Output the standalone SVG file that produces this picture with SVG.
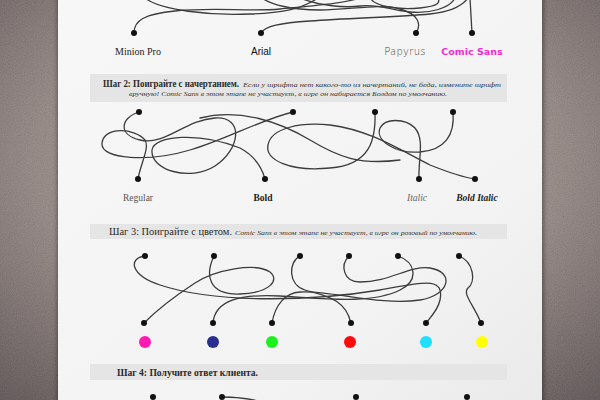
<svg xmlns="http://www.w3.org/2000/svg" width="600" height="400" viewBox="0 0 600 400">
<defs>
<radialGradient id="bg" cx="0.5" cy="0.4" r="0.8">
<stop offset="0" stop-color="#a5958e"/>
<stop offset="0.55" stop-color="#8a7c77"/>
<stop offset="1" stop-color="#4a3e3f"/>
</radialGradient>
<linearGradient id="paper" x1="0" y1="0" x2="1" y2="1">
<stop offset="0" stop-color="#f7f7f7"/>
<stop offset="0.7" stop-color="#f3f3f3"/>
<stop offset="1" stop-color="#eaeaea"/>
</linearGradient>
<filter id="noise" x="0" y="0" width="100%" height="100%">
<feTurbulence type="fractalNoise" baseFrequency="0.9" numOctaves="3" seed="7"/>
<feColorMatrix type="matrix" values="0.6 0.2 0.2 0 0  0.5 0.3 0.2 0 0  0.5 0.2 0.3 0 0  0 0 0 0 0.22"/>
</filter>
<filter id="shadow" x="-5%" y="-5%" width="110%" height="110%">
<feGaussianBlur stdDeviation="2"/>
</filter>
</defs>
<style>
.band{fill:#e5e5e5}
.dot{fill:#111}
.cur{fill:none;stroke:#3c3c3c;stroke-width:1.3;stroke-linecap:round}
.hd{font-family:"Liberation Serif","DejaVu Serif",serif;font-weight:bold;font-size:9.5px;fill:#2a2a2a}
.it{font-family:"Liberation Serif","DejaVu Serif",serif;font-style:italic;font-size:7px;fill:#333}
.lab{font-size:10px;text-anchor:middle}
</style>
<rect width="600" height="400" fill="url(#bg)"/>
<rect width="600" height="400" filter="url(#noise)"/>
<rect x="57" y="-5" width="487" height="410" fill="#000" opacity="0.35" filter="url(#shadow)"/>
<rect x="58" y="0" width="484" height="400" fill="url(#paper)"/>

<g id="connectors">
<path class="cur" d="M134,33 C134,20 145,14 175,11 C215,7 250,12 280,9 C320,5 345,3 360,-2"/>
<path class="cur" d="M261,33 C265,26 280,23 310,21 C350,18 400,17 430,14 C450,12 462,6 468,-2"/>
<path class="cur" d="M416,33 C422,24 418,14 400,9 C380,3 350,10 320,10 C290,10 270,4 262,-2"/>
<path class="cur" d="M472,33 L470,-2"/>
<path class="cur" d="M145,-2 C160,10 210,16 250,14 C280,13 300,10 318,-2"/>
<path class="cur" d="M370,-2 C375,6 395,10 420,8 C440,6 440,2 438,-2"/>
<path class="cur" d="M300,-2 C320,6 345,8 360,6 C380,4 390,10 410,12 C430,14 450,8 455,-2"/>

<path class="cur" d="M139,112 C120,118 118,135 140,140 C165,146 185,120 215,118 C245,116 240,150 215,166 C190,182 150,170 152,150 C154,135 200,132 240,148 C255,156 262,168 265,179"/>
<path class="cur" d="M293,112 C260,120 225,140 190,150 C150,162 100,160 102,143 C104,126 135,128 145,140 C150,148 140,165 138,179"/>
<path class="cur" d="M375,112 C376,140 370,165 330,168 C290,172 265,160 268,145 C271,128 300,122 330,125 C370,130 400,150 430,165 C450,173 462,177 475,179"/>
<path class="cur" d="M453,112 C455,135 445,150 420,152 C395,154 375,140 380,128 C385,118 405,118 415,128 C425,140 418,160 419,179"/>
<path class="cur" d="M200,118 C240,108 280,122 310,140 C340,158 360,165 400,160"/>

<path class="cur" d="M145,256 C128,258 130,275 160,285 C220,305 320,300 380,290 C420,283 445,275 440,300 C438,310 430,318 426,323"/>
<path class="cur" d="M214,256 C205,275 208,295 240,294 C270,293 280,280 270,272 C255,262 215,270 195,283 C175,296 155,312 144,323"/>
<path class="cur" d="M300,256 C288,262 288,285 305,290 C325,296 345,298 351,323"/>
<path class="cur" d="M349,256 C340,265 343,282 360,282 C390,282 410,265 430,268 C455,272 450,295 420,300 C380,306 330,290 300,292 C285,293 275,305 272,323"/>
<path class="cur" d="M398,256 C415,262 420,280 400,290 C370,305 320,298 280,296 C240,294 215,300 213,323"/>
<path class="cur" d="M459,256 C474,262 476,282 468,288 C462,294 474,305 481,323"/>

<path class="cur" d="M222,397 C235,397 250,399 258,401"/>
</g>

<g id="step1">
<g id="n-minion"><circle class="dot" cx="134" cy="33" r="3"/><text class="lab" x="138" y="55" style="font-family:'Liberation Serif',serif;fill:#222">Minion Pro</text></g>
<g id="n-arial"><circle class="dot" cx="261" cy="33" r="3"/><text class="lab" x="261" y="55" style="font-family:'Liberation Sans',sans-serif;fill:#111">Arial</text></g>
<g id="n-papyrus"><circle class="dot" cx="416" cy="33" r="3"/><text class="lab" x="405" y="55" style="font-family:'DejaVu Sans',sans-serif;font-weight:200;fill:#444;letter-spacing:0.3px">Papyrus</text></g>
<g id="n-comic"><circle class="dot" cx="472" cy="33" r="3"/><text class="lab" x="472" y="55" style="font-family:'DejaVu Sans',sans-serif;font-weight:bold;font-size:9.5px;fill:#f22ad6">Comic Sans</text></g>
</g>

<g id="step2-header">
<rect class="band" x="90" y="74" width="417" height="28"/>
<text class="hd" x="103" y="87" textLength="136" lengthAdjust="spacingAndGlyphs">Шаг 2: Поиграйте с начертанием.</text>
<text class="it" x="243" y="87" textLength="258" lengthAdjust="spacingAndGlyphs">Если у шрифта нет какого-то из начертаний, не беда, измените шрифт</text>
<text class="it" x="129" y="96" textLength="318" lengthAdjust="spacingAndGlyphs">вручную! Comic Sans в этом этапе не участвует, в игре он набирается Болдом по умолчанию.</text>
</g>

<g id="step2">
<g id="s2-t1"><circle class="dot" cx="139" cy="112" r="3"/></g>
<g id="s2-t2"><circle class="dot" cx="293" cy="112" r="3"/></g>
<g id="s2-t3"><circle class="dot" cx="375" cy="112" r="3"/></g>
<g id="s2-t4"><circle class="dot" cx="453" cy="112" r="3"/></g>
<g id="n-regular"><circle class="dot" cx="138" cy="179" r="3"/><text class="lab" x="138" y="201" style="font-family:'Liberation Serif',serif;fill:#555;font-size:9.5px">Regular</text></g>
<g id="n-bold"><circle class="dot" cx="265" cy="179" r="3"/><text class="lab" x="263" y="201" style="font-family:'Liberation Serif',serif;font-weight:bold;fill:#222;font-size:9.5px">Bold</text></g>
<g id="n-italic"><circle class="dot" cx="419" cy="179" r="3"/><text class="lab" x="417" y="201" style="font-family:'Liberation Serif',serif;font-style:italic;fill:#666;font-size:9.5px">Italic</text></g>
<g id="n-bolditalic"><circle class="dot" cx="475" cy="179" r="3"/><text class="lab" x="477" y="201" style="font-family:'Liberation Serif',serif;font-style:italic;font-weight:bold;fill:#222;font-size:9.5px">Bold Italic</text></g>
</g>

<g id="step3-header">
<rect class="band" x="90" y="224" width="417" height="15"/>
<text class="hd" x="109" y="235" textLength="123" lengthAdjust="spacingAndGlyphs" style="font-weight:normal;font-size:9.5px">Шаг 3: Поиграйте с цветом.</text>
<text class="it" x="235" y="235" textLength="242" lengthAdjust="spacingAndGlyphs">Comic Sans в этом этапе не участвует, в игре он розовый по умолчанию.</text>
</g>

<g id="step3">
<g id="s3-t1"><circle class="dot" cx="145" cy="256" r="3"/></g>
<g id="s3-t2"><circle class="dot" cx="214" cy="256" r="3"/></g>
<g id="s3-t3"><circle class="dot" cx="300" cy="256" r="3"/></g>
<g id="s3-t4"><circle class="dot" cx="349" cy="256" r="3"/></g>
<g id="s3-t5"><circle class="dot" cx="398" cy="256" r="3"/></g>
<g id="s3-t6"><circle class="dot" cx="459" cy="256" r="3"/></g>
<g id="n-magenta"><circle class="dot" cx="144" cy="323" r="3"/><circle cx="145" cy="342" r="6" fill="#ff1ab3"/></g>
<g id="n-navy"><circle class="dot" cx="213" cy="323" r="3"/><circle cx="213" cy="342" r="6" fill="#2a2e8c"/></g>
<g id="n-green"><circle class="dot" cx="272" cy="323" r="3"/><circle cx="272" cy="342" r="6" fill="#1ef01e"/></g>
<g id="n-red"><circle class="dot" cx="351" cy="323" r="3"/><circle cx="350" cy="342" r="6" fill="#ff0a0a"/></g>
<g id="n-cyan"><circle class="dot" cx="426" cy="323" r="3"/><circle cx="426" cy="342" r="6" fill="#1ee0ff"/></g>
<g id="n-yellow"><circle class="dot" cx="481" cy="323" r="3"/><circle cx="482" cy="342" r="6" fill="#ffff00"/></g>
</g>

<g id="step4-header">
<rect class="band" x="90" y="364" width="417" height="16"/>
<text class="hd" x="117" y="376" textLength="141" lengthAdjust="spacingAndGlyphs">Шаг 4: Получите ответ клиента.</text>
</g>

<g id="step4">
<g id="s4-1"><circle class="dot" cx="153" cy="397" r="3"/></g>
<g id="s4-2"><circle class="dot" cx="222" cy="397" r="3"/></g>
<g id="s4-3"><circle class="dot" cx="356" cy="397" r="3"/></g>
<g id="s4-4"><circle class="dot" cx="467" cy="397" r="3"/></g>
</g>
</svg>
